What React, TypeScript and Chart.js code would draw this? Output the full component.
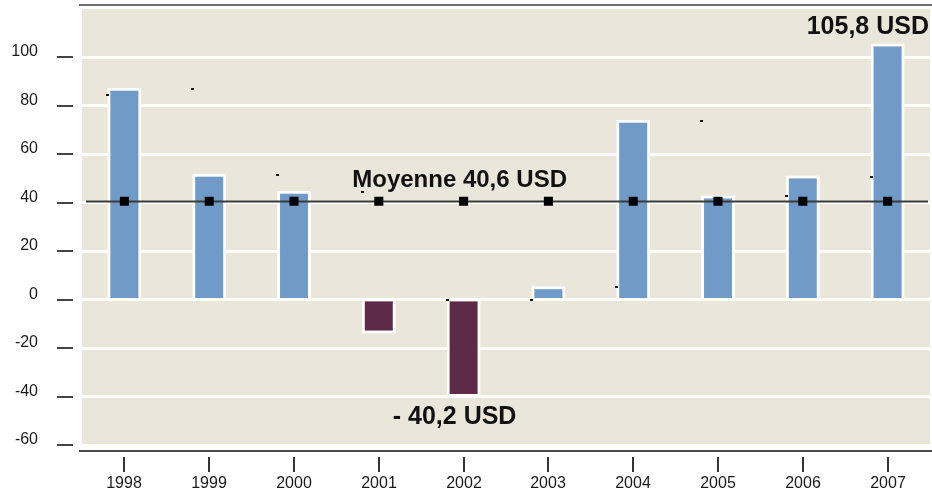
import React, { useEffect, useRef } from 'react';
import { Chart, registerables } from 'chart.js';

Chart.register(...registerables);

const years = ['1998', '1999', '2000', '2001', '2002', '2003', '2004', '2005', '2006', '2007'];
const values = [87.5, 52, 45, -14, -40.2, 5.5, 74.3, 43, 51.3, 105.8];
const prevDots = [84.3, 87.1, 51.5, 44.5, 0, 0, 5.2, 73.8, 42.6, 50.6];
const meanValue = 40.6;
const meanSeries = years.map(() => meanValue);
const yTickValues = [100, 80, 60, 40, 20, 0, -20, -40, -60];
const meanLabel = 'Moyenne 40,6 USD';
const maxLabel = '105,8 USD';
const minLabel = '- 40,2 USD';

const BLUE = '#709ac8';
const PURPLE = '#5d2a48';
const BEIGE = '#eae6da';
const FONT = '"Liberation Sans", Arial, sans-serif';

const decor = {
  id: 'decor',
  beforeDraw(chart: any) {
    const { ctx, chartArea: a } = chart;
    ctx.save();
    ctx.fillStyle = BEIGE;
    ctx.fillRect(a.left, a.top, a.right - a.left, a.bottom - a.top);
    ctx.restore();
  },
  afterDatasetDraw(chart: any, args: any) {
    if (args.index !== 0) return;
    const { ctx, chartArea: a } = chart;
    const y = chart.scales.y;
    ctx.save();
    const my = Math.round(y.getPixelForValue(meanValue)) + 0.5;
    ctx.strokeStyle = '#3a3a3a';
    ctx.lineWidth = 2;
    ctx.beginPath();
    ctx.moveTo(a.left + 4, my);
    ctx.lineTo(a.right - 2, my);
    ctx.stroke();
    const meta = chart.getDatasetMeta(0);
    ctx.fillStyle = '#111';
    meta.data.forEach((bar: any, i: number) => {
      const px = bar.x - bar.width / 2;
      const py = y.getPixelForValue(prevDots[i]);
      ctx.fillRect(Math.round(px) - 1, Math.round(py) - 1, 3, 2);
    });
    ctx.restore();
  },
  afterDraw(chart: any) {
    const { ctx, chartArea: a } = chart;
    const x = chart.scales.x;
    const y = chart.scales.y;
    ctx.save();
    ctx.fillStyle = '#6e6e6e';
    ctx.fillRect(a.left - 3, a.top - 5, chart.width - (a.left - 3), 2);
    ctx.fillStyle = '#4a4a4a';
    ctx.fillRect(a.left - 3, a.bottom + 5, chart.width - (a.left - 3), 2);
    ctx.font = `16px ${FONT}`;
    ctx.textAlign = 'center';
    ctx.textBaseline = 'middle';
    years.forEach((yr, i) => {
      const px = Math.round(x.getPixelForValue(i));
      ctx.fillStyle = '#333';
      ctx.fillRect(px - 1, a.bottom + 12, 2, 15);
      ctx.fillStyle = '#1a1a1a';
      ctx.fillText(yr, px, a.bottom + 39);
    });
    ctx.textAlign = 'right';
    yTickValues.forEach((v) => {
      const py = Math.round(y.getPixelForValue(v));
      ctx.fillStyle = '#444';
      ctx.fillRect(a.left - 25, py - 1, 16, 2);
      ctx.fillStyle = '#1a1a1a';
      ctx.fillText(String(v), a.left - 44, py - 5);
    });
    ctx.fillStyle = '#111';
    ctx.textBaseline = 'alphabetic';
    const meta = chart.getDatasetMeta(0);
    const midBar = meta.data[4];
    ctx.font = `bold 24px ${FONT}`;
    ctx.textAlign = 'center';
    ctx.fillText(meanLabel, midBar.x - 4, y.getPixelForValue(meanValue) - 14);
    ctx.font = `bold 25px ${FONT}`;
    ctx.textAlign = 'right';
    ctx.fillText(maxLabel, a.right - 1, y.getPixelForValue(values[9]) - 9);
    ctx.textAlign = 'center';
    ctx.fillText(minLabel, midBar.x - 9, y.getPixelForValue(values[4]) + 27);
    ctx.restore();
  },
};

export default function App() {
  const ref = useRef<HTMLCanvasElement | null>(null);
  useEffect(() => {
    document.body.style.margin = '0';
    const chart = new Chart(ref.current as HTMLCanvasElement, {
      type: 'bar',
      data: {
        labels: years,
        datasets: [
          {
            type: 'bar',
            data: values,
            backgroundColor: values.map((v) => (v < 0 ? PURPLE : BLUE)),
            borderColor: '#ffffff',
            borderWidth: 3,
            borderSkipped: 'start',
            barPercentage: 0.4,
            categoryPercentage: 1,
            order: 1,
          },
          {
            type: 'line',
            data: meanSeries,
            showLine: false,
            pointStyle: 'rect',
            pointRadius: 6.4,
            pointBackgroundColor: '#000',
            pointBorderWidth: 0,
            order: 0,
          } as any,
        ],
      },
      options: {
        animation: false,
        responsive: true,
        maintainAspectRatio: false,
        layout: { autoPadding: false, padding: { left: 82, top: 9, right: 2, bottom: 48 } },
        plugins: { legend: { display: false }, tooltip: { enabled: false } },
        scales: {
          x: { display: false },
          y: {
            min: -60,
            max: 120,
            ticks: { display: false, stepSize: 20 },
            border: { display: false },
            grid: {
              drawTicks: false,
              lineWidth: 3,
              color: (c: any) => (c.tick && c.tick.value === 120 ? 'rgba(0,0,0,0)' : '#ffffff'),
            },
            afterFit: (s: any) => {
              s.width = 0;
            },
          },
        },
      },
      plugins: [decor],
    });
    return () => chart.destroy();
  }, []);
  return (
    <div style={{ width: 932, height: 493, position: 'relative' }}>
      <canvas ref={ref} />
    </div>
  );
}
